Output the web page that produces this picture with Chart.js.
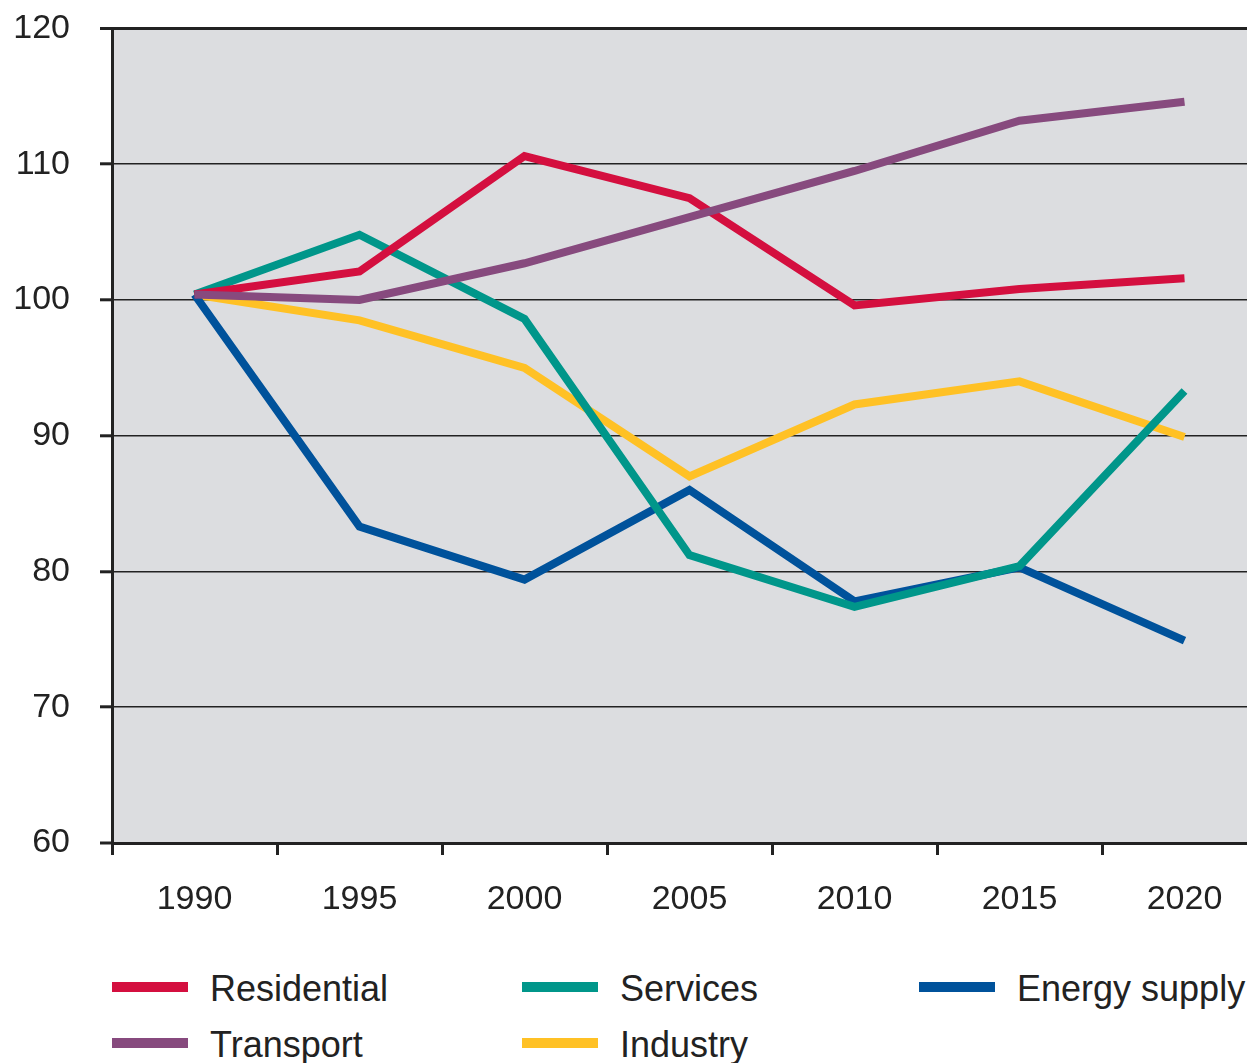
<!DOCTYPE html>
<html>
<head>
<meta charset="utf-8">
<script src="https://cdn.jsdelivr.net/npm/chart.js@4.4.1/dist/chart.umd.min.js"></script>
<style>
  html, body { margin: 0; padding: 0; background: #fff; overflow: hidden; }
  #wrap { position: relative; width: 1270px; height: 1063px; }
  #chartBox { position: absolute; left: 0; top: -22px; width: 1270px; height: 952px; }
  #legend {
    position: absolute; left: 112px; top: 972px;
    display: grid; grid-template-columns: 410px 397px 400px; row-gap: 22px;
    font-family: "Liberation Sans", Arial, sans-serif; font-size: 36px; color: #222;
  }
  #legend .item { display: flex; align-items: center; height: 34px; white-space: nowrap; }
  #legend .swatch { width: 76px; height: 10px; margin-right: 22px; margin-top: -4px; }
</style>
</head>
<body>
<div id="wrap">
  <div id="chartBox"><canvas id="chart"></canvas></div>
  <div id="legend"></div>
</div>
<script>
const years = ['1990', '1995', '2000', '2005', '2010', '2015', '2020'];
const residential = [100.4, 102.1, 110.6, 107.5, 99.6, 100.8, 101.6];
const transport = [100.4, 100.0, 102.7, 106.1, 109.5, 113.2, 114.6];
const services = [100.4, 104.8, 98.6, 81.2, 77.4, 80.4, 93.3];
const industry = [100.4, 98.5, 95.0, 87.0, 92.3, 94.0, 89.9];
const energySupply = [100.4, 83.3, 79.4, 86.0, 77.8, 80.3, 74.9];
const yTicks = [60, 70, 80, 90, 100, 110, 120];

// legend order is row by row, as printed under the chart
const series = [
  { label: 'Residential', data: residential, color: '#d40f3f', order: 1 },
  { label: 'Services', data: services, color: '#00968a', order: 2 },
  { label: 'Energy supply', data: energySupply, color: '#00529b', order: 3 },
  { label: 'Transport', data: transport, color: '#874a7e', order: 0 },
  { label: 'Industry', data: industry, color: '#ffc125', order: 4 },
];

const ink = '#222';
const font = { family: '"Liberation Sans", Arial, sans-serif', size: 34 };

const plotBg = {
  id: 'plotBg',
  beforeDraw(chart) {
    const { ctx, chartArea: a } = chart;
    ctx.save();
    ctx.fillStyle = '#dcdde0';
    ctx.fillRect(a.left, a.top, a.right - a.left, a.bottom - a.top);
    ctx.restore();
  }
};

new Chart(document.getElementById('chart'), {
  type: 'line',
  data: {
    labels: years,
    datasets: series.map((s) => ({
      label: s.label,
      data: s.data,
      borderColor: s.color,
      backgroundColor: s.color,
      borderWidth: 8,
      pointRadius: 0,
      tension: 0,
      borderJoinStyle: 'miter',
      order: s.order,
    })),
  },
  options: {
    responsive: true,
    maintainAspectRatio: false,
    animation: false,
    layout: { padding: { top: 6, right: 3, left: 0, bottom: 0 } },
    plugins: { legend: { display: false }, tooltip: { enabled: false } },
    scales: {
      x: {
        offset: true,
        grid: { offset: true, drawOnChartArea: false, drawTicks: true, tickLength: 12, tickWidth: 3, tickColor: ink },
        border: { display: true, width: 3, color: ink },
        ticks: { color: ink, font, padding: 24, maxRotation: 0 },
        afterFit(scale) { scale.height = 87; },
      },
      y: {
        min: 60,
        max: 120,
        afterBuildTicks(scale) { scale.ticks = yTicks.map((v) => ({ value: v })); },
        grid: {
          color: ink,
          lineWidth: (c) => (c.tick && c.tick.value === 120 ? 3 : c.tick && c.tick.value === 60 ? 0 : 1.6),
          tickLength: 12,
          tickWidth: 3,
          tickColor: ink,
        },
        border: { display: true, width: 3, color: ink },
        ticks: { color: ink, font, padding: 30 },
        afterFit(scale) { scale.width = 112; },
      },
    },
  },
  plugins: [plotBg],
});

document.getElementById('legend').innerHTML = series.map((s) =>
  `<div class="item"><span class="swatch" style="background:${s.color}"></span>${s.label}</div>`
).join('');
</script>
</body>
</html>
